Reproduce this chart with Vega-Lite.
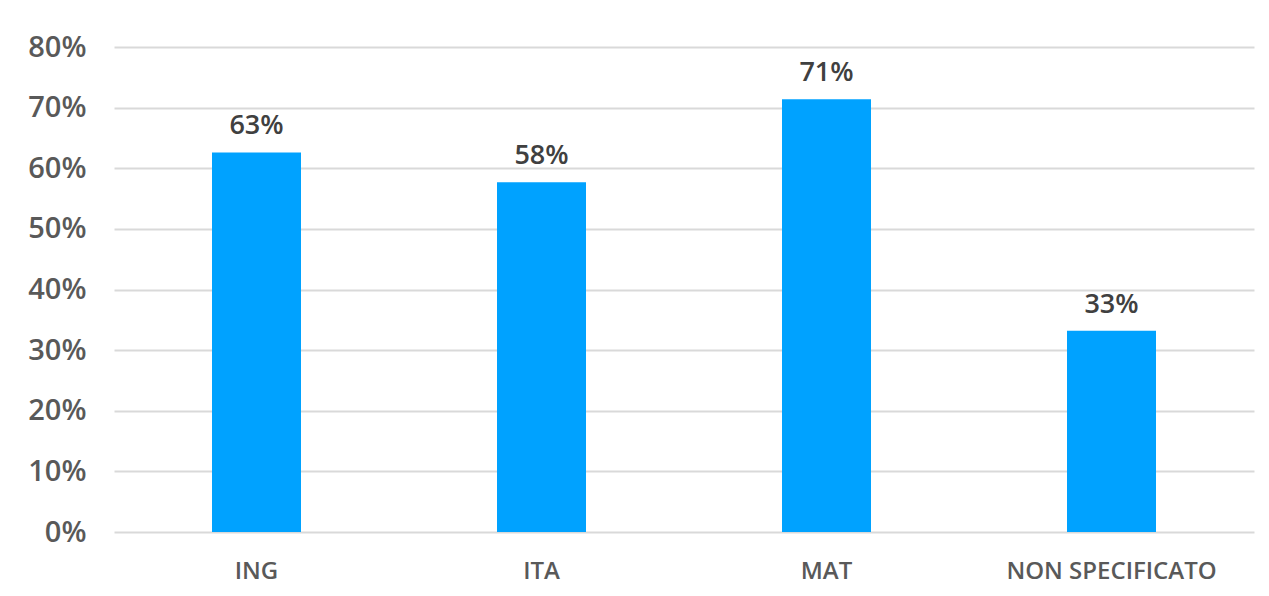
{
  "$schema": "https://vega.github.io/schema/vega-lite/v6.json",
  "autosize": {"type": "none"},
  "width": 1140,
  "height": 485,
  "padding": {"left": 114, "top": 47, "right": 15, "bottom": 64},
  "background": "white",
  "config": {"view": {"stroke": null}, "font": "Open Sans"},
  "data": {"values": [
    {"cat": "ING", "val": 0.626},
    {"cat": "ITA", "val": 0.577},
    {"cat": "MAT", "val": 0.714},
    {"cat": "NON SPECIFICATO", "val": 0.332}
  ]},
  "encoding": {
    "x": {"field": "cat", "type": "nominal", "sort": null,
      "scale": {"paddingInner": 0, "paddingOuter": 0},
      "axis": {"title": null, "labelAngle": 0, "domain": false, "ticks": false, "labelPadding": 27, "labelLimit": 0,
        "labelFont": "Open Sans", "labelFontSize": 24, "labelFontWeight": 600, "labelColor": "#595959"}},
    "y": {"field": "val", "type": "quantitative",
      "scale": {"domain": [0, 0.8], "nice": false},
      "axis": {"title": null, "format": ".0%", "values": [0, 0.1, 0.2, 0.3, 0.4, 0.5, 0.6, 0.7, 0.8],
        "domain": false, "ticks": false, "labelPadding": 28, "grid": true, "gridColor": "#d9d9d9", "gridWidth": 2,
        "labelFont": "Open Sans", "labelFontSize": 29, "labelFontWeight": 600, "labelColor": "#595959"}}
  },
  "layer": [
    {"mark": {"type": "bar", "size": 89, "color": "#00A2FF"}},
    {"mark": {"type": "text", "dy": -26, "fontSize": 27, "fontWeight": 600, "color": "#404040", "font": "Open Sans"},
      "encoding": {"text": {"field": "val", "type": "quantitative", "format": ".0%"}}}
  ]
}
